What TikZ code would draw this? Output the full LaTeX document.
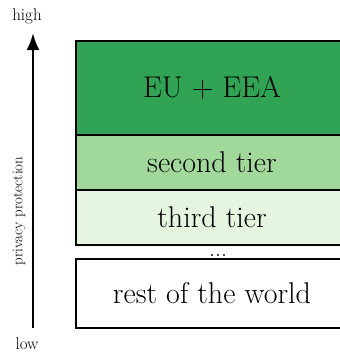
\documentclass[tikz,border=0pt]{standalone}
\usetikzlibrary{arrows.meta}
\definecolor{gdark}{HTML}{31A354}
\definecolor{gmid}{HTML}{A1D99B}
\definecolor{glight}{HTML}{E5F5E0}
\tikzset{
  tier/.style={draw=black, line width=2.8pt, rectangle, minimum width=272pt, inner sep=0pt, font=\fontsize{30}{33}\selectfont},
  small/.style={font=\fontsize{17}{19}\selectfont, inner sep=0pt},
}
\begin{document}
\begin{tikzpicture}[x=1pt,y=-1pt]
\useasboundingbox (0,0) rectangle (340,354);
\clip (0,0) rectangle (340,354);
\node[tier, fill=gdark, minimum height=94pt] (eu) at (212,88) {EU + EEA};
\node[tier, fill=gmid, minimum height=55pt] (second) at (212,162.5) {second tier};
\node[tier, fill=glight, minimum height=55pt] (third) at (212,217.5) {third tier};
\node[font=\fontsize{24}{24}\selectfont, inner sep=0pt, anchor=base] (dots) at (218,256) {...};
\node[tier, fill=white, minimum height=69pt] (rest) at (212,293.5) {rest of the world};
\node[small] (high) at (27,16) {high};
\node[small] (low) at (27,344) {low};
\coordinate (bot) at (33,328);
\coordinate (top) at (33,33);
\draw[line width=2.6pt, -{Latex[length=17pt,width=13pt]}] (bot) -- (top);
\node[font=\fontsize{15}{17}\selectfont, inner sep=0pt, rotate=90] (pp) at (19,211) {privacy protection};
\end{tikzpicture}
\end{document}
